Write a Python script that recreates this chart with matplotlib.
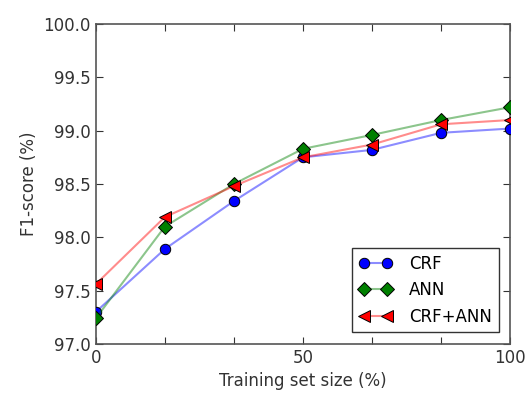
import matplotlib
matplotlib.use("Agg")
import matplotlib.pyplot as plt

x = [0, 100/6, 200/6, 50, 400/6, 500/6, 100]
crf = [97.30, 97.89, 98.34, 98.75, 98.82, 98.98, 99.02]
ann = [97.24, 98.10, 98.50, 98.83, 98.96, 99.10, 99.22]
crf_ann = [97.56, 98.19, 98.48, 98.75, 98.87, 99.06, 99.10]
labels = ["CRF", "ANN", "CRF+ANN"]
xtick_labels = ["0", "", "", "50", "", "", "100"]

fig = plt.figure(figsize=(5.32, 3.94), dpi=100)
ax = fig.add_axes([0.180, 0.127, 0.779, 0.812])

series = [(crf, (0, 0, 1), "o", 7.5), (ann, (0, 0.5, 0), "D", 7.5), (crf_ann, (1, 0, 0), "<", 8)]
handles = []
for (y, c, m, ms), lab in zip(series, labels):
    h, = ax.plot(x, y, color=c + (0.45,), lw=1.5, marker=m, ms=ms, mfc=c,
                 mec="black", mew=0.7, zorder=3)
    handles.append(h)

ax.set_xlim(0, 100)
ax.set_ylim(97.0, 100.0)
ax.set_xticks(x)
ax.set_xticklabels(xtick_labels)
ax.set_yticks([97.0, 97.5, 98.0, 98.5, 99.0, 99.5, 100.0])
ax.set_yticklabels(["97.0", "97.5", "98.0", "98.5", "99.0", "99.5", "100.0"])
ax.tick_params(direction="in", top=True, right=True, length=5, labelsize=12,
               colors="#333333", labelcolor="#333333")
for s in ax.spines.values():
    s.set_color("#555555")
    s.set_linewidth(1.2)
ax.set_xlabel("Training set size (%)", fontsize=12, color="#333333")
ax.set_ylabel("F1-score (%)", fontsize=12, color="#333333")

leg = ax.legend(handles, labels, loc="lower right", numpoints=2, fontsize=12,
                fancybox=False, framealpha=1, edgecolor="#333333",
                handlelength=2.0, handletextpad=1.0, borderaxespad=0.7)
leg.get_frame().set_linewidth(1.0)

fig.savefig("out.png", dpi=100)
